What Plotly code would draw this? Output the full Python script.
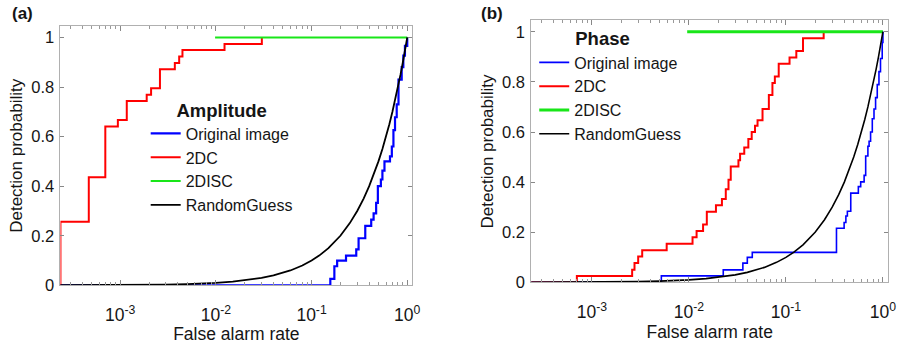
import plotly.graph_objects as go

# ---------------- data ----------------
# Panel (a) Amplitude
a_orig_far = [2.3e-4, 0.157, 0.173, 0.185, 0.229, 0.293, 0.31, 0.364, 0.42, 0.445, 0.473, 0.493,
              0.53, 0.55, 0.578, 0.66, 0.69, 0.717, 0.745, 0.776, 0.81, 0.875, 0.91, 0.946, 1.0]
a_orig_pd = [0.0, 0.026, 0.077, 0.10, 0.12, 0.145, 0.19, 0.24, 0.265, 0.29, 0.333, 0.40,
             0.427, 0.463, 0.50, 0.52, 0.56, 0.626, 0.678, 0.73, 0.83, 0.88, 0.927, 0.966, 1.0]

a_2dc_far = [2.37e-4, 2.37e-4, 4.69e-4, 6.98e-4, 9.44e-4, 1.17e-3, 1.89e-3, 2.1e-3, 2.6e-3,
             3.72e-3, 4.13e-3, 4.47e-3, 0.0123, 0.0302]
a_2dc_pd = [0.0, 0.256, 0.436, 0.641, 0.667, 0.744, 0.769, 0.795, 0.872,
            0.897, 0.923, 0.949, 0.974, 1.0]

a_2disc_far = [0.0098, 1.0]
a_2disc_pd = [1.0, 1.0]

# Panel (b) Phase
b_orig_far = [2.3e-4, 0.0052, 0.0226, 0.036, 0.040, 0.045, 0.332, 0.398, 0.415, 0.43, 0.466,
              0.558, 0.59, 0.64, 0.664, 0.70, 0.72, 0.746, 0.777, 0.809, 0.84, 0.874, 0.91,
              0.944, 0.983, 1.0]
b_orig_pd = [0.0, 0.026, 0.05, 0.077, 0.10, 0.12, 0.216, 0.239, 0.265, 0.284, 0.356,
             0.382, 0.401, 0.427, 0.504, 0.543, 0.563, 0.60, 0.653, 0.692, 0.737, 0.789, 0.841,
             0.893, 0.957, 1.0]

b_2dc_far = [2.3e-4, 7.0e-4, 2.6e-3, 2.75e-3, 3.0e-3, 3.3e-3, 5.9e-3, 0.0109, 0.012, 0.014,
             0.0153, 0.019, 0.0219, 0.024, 0.0256, 0.027, 0.0324, 0.0337, 0.0372, 0.041,
             0.0444, 0.048, 0.051, 0.0574, 0.0667, 0.0726, 0.0769, 0.0843, 0.109, 0.128,
             0.15, 0.245]
b_2dc_pd = [0.0, 0.026, 0.051, 0.077, 0.103, 0.128, 0.154, 0.18, 0.205, 0.231,
            0.282, 0.308, 0.333, 0.372, 0.41, 0.462, 0.487, 0.513, 0.538, 0.572,
            0.60, 0.625, 0.647, 0.692, 0.748, 0.795, 0.821, 0.872, 0.897, 0.923,
            0.974, 1.0]

b_2disc_far = [0.0096, 1.0]
b_2disc_pd = [1.0, 1.0]

# Random guess (diagonal)
rg_far = [2.3e-4, 5e-4, 1e-3, 2e-3, 3e-3, 5e-3, 7e-3, 0.01, 0.015, 0.02, 0.03, 0.04, 0.05,
          0.06, 0.08, 0.1, 0.12, 0.15, 0.2, 0.25, 0.3, 0.35, 0.4, 0.45, 0.5, 0.55, 0.6,
          0.65, 0.7, 0.75, 0.8, 0.85, 0.9, 0.95, 1.0]
rg_pd = [2.3e-4, 5e-4, 1e-3, 2e-3, 3e-3, 5e-3, 7e-3, 0.01, 0.015, 0.02, 0.03, 0.04, 0.05,
         0.06, 0.08, 0.1, 0.12, 0.15, 0.2, 0.25, 0.3, 0.35, 0.4, 0.45, 0.5, 0.55, 0.6,
         0.65, 0.7, 0.75, 0.8, 0.85, 0.9, 0.95, 1.0]

series_names = ["Original image", "2DC", "2DISC", "RandomGuess"]
x_tickvals = [1e-3, 1e-2, 1e-1, 1.0]
x_ticktext = ["10<sup>-3</sup>", "10<sup>-2</sup>", "10<sup>-1</sup>", "10<sup>0</sup>"]
y_tickvals = [0, 0.2, 0.4, 0.6, 0.8, 1.0]
y_ticktext = ["0", "0.2", "0.4", "0.6", "0.8", "1"]
panel_titles = ["Amplitude", "Phase"]
panel_labels = ["(a)", "(b)"]

# ---------------- figure ----------------
W, H = 904, 344
FONT = "Liberation Sans, Arial, sans-serif"
TXT = "#151515"
BLUE, RED, GREEN, BLACK = "#0000ff", "#ff0000", "#19e619", "#000000"

fig = go.Figure()

panels = [
    dict(xa="x", ya="y", leg="legend",
         data=[(a_orig_far, a_orig_pd, BLUE, 2.2), (a_2dc_far, a_2dc_pd, RED, 2.0),
               (a_2disc_far, a_2disc_pd, GREEN, 2.0)], rgw=1.8),
    dict(xa="x2", ya="y2", leg="legend2",
         data=[(b_orig_far, b_orig_pd, BLUE, 1.6), (b_2dc_far, b_2dc_pd, RED, 2.0),
               (b_2disc_far, b_2disc_pd, GREEN, 3.0)], rgw=1.6),
]

for p in panels:
    for (xs, ys, c, w), name in zip(p["data"], series_names[:3]):
        fig.add_trace(go.Scatter(x=xs, y=ys, mode="lines", name=name,
                                 line=dict(color=c, width=w, shape="hv"),
                                 xaxis=p["xa"], yaxis=p["ya"], legend=p["leg"]))
    fig.add_trace(go.Scatter(x=rg_far, y=rg_pd, mode="lines", name=series_names[3],
                             line=dict(color=BLACK, width=p["rgw"]),
                             xaxis=p["xa"], yaxis=p["ya"], legend=p["leg"]))

minor_vals = [m * 10 ** e for e in range(-4, 1) for m in range(2, 10)]

def xaxis(domain, anchor):
    return dict(domain=domain, anchor=anchor, type="log", range=[-3.625, 0.053],
                tickmode="array", tickvals=x_tickvals, ticktext=x_ticktext,
                ticks="inside", ticklen=5, tickcolor="#888", showline=True,
                linecolor="#b0b0b0", linewidth=1, mirror="ticks", showgrid=False,
                zeroline=False, tickfont=dict(size=17.5, color=TXT, family=FONT),
                ticklabelstandoff=14,
                minor=dict(tickmode="array", tickvals=minor_vals, ticks="inside",
                           ticklen=3, tickcolor="#999", showgrid=False),
                title=dict(text="False alarm rate", font=dict(size=17.5, color=TXT, family=FONT),
                           standoff=0))

def yaxis(domain, anchor):
    return dict(domain=domain, anchor=anchor, range=[0, 1.045],
                tickmode="array", tickvals=y_tickvals, ticktext=y_ticktext,
                ticks="inside", ticklen=4, tickcolor="#888", showline=True,
                linecolor="#b0b0b0", linewidth=1, mirror="ticks", showgrid=False,
                zeroline=False, tickfont=dict(size=16.5, color=TXT, family=FONT),
                ticklabelstandoff=2,
                title=dict(text="Detection probability",
                           font=dict(size=17, color=TXT, family=FONT), standoff=4))

fig.update_layout(
    width=W, height=H, margin=dict(l=0, r=0, t=0, b=0),
    paper_bgcolor="white", plot_bgcolor="white",
    font=dict(family=FONT, color=TXT),
    xaxis=xaxis([61 / W, 416 / W], "y"),
    yaxis=yaxis([1 - 293 / H, 1 - 27 / H], "x"),
    xaxis2=xaxis([536 / W, 896 / W], "y2"),
    yaxis2=yaxis([1 - 290 / H, 1 - 21 / H], "x2"),
    legend=dict(x=147 / W, y=1 - 95 / H, xanchor="left", yanchor="top",
                bgcolor="rgba(0,0,0,0)", borderwidth=0,
                font=dict(size=16, family=FONT, color=TXT),
                title=dict(text="<b>" + panel_titles[0] + "</b>", side="top center",
                           font=dict(size=18.5, family=FONT, color=TXT))),
    legend2=dict(x=539 / W, y=1 - 22 / H, xanchor="left", yanchor="top",
                 bgcolor="rgba(0,0,0,0)", borderwidth=0,
                 font=dict(size=16, family=FONT, color=TXT),
                 title=dict(text="<b>" + panel_titles[1] + "</b>&nbsp;&nbsp;&nbsp;",
                            side="top center",
                            font=dict(size=18.5, family=FONT, color=TXT))),
    showlegend=True,
)

fig.add_annotation(text="<b>" + panel_labels[0] + "</b>", x=23 / W, y=1 - 14 / H,
                   xref="paper", yref="paper", xanchor="center", yanchor="middle",
                   showarrow=False, font=dict(size=17, family=FONT, color=TXT))
fig.add_annotation(text="<b>" + panel_labels[1] + "</b>", x=496 / W, y=1 - 14 / H,
                   xref="paper", yref="paper", xanchor="center", yanchor="middle",
                   showarrow=False, font=dict(size=17, family=FONT, color=TXT))

fig.write_html("out.html")
